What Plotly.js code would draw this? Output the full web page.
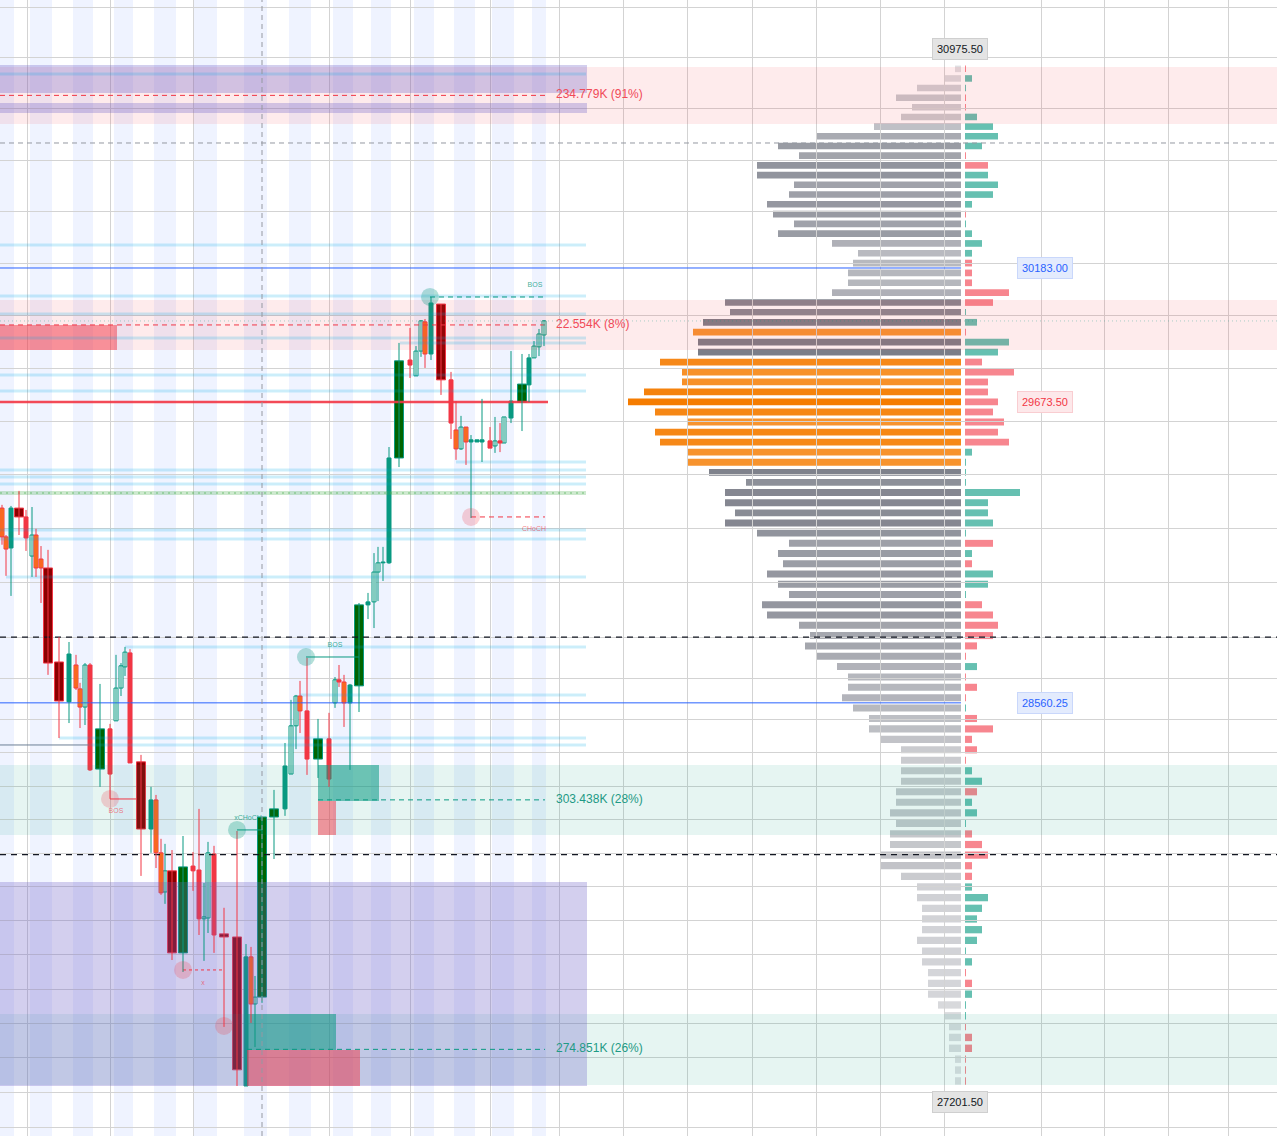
<!DOCTYPE html>
<html>
<head>
<meta charset="utf-8">
<script src="https://cdn.plot.ly/plotly-3.0.1.min.js"></script>
<style>
html,body{margin:0;padding:0;background:#ffffff;}
#chart{width:1277px;height:1136px;}
</style>
</head>
<body>
<div id="chart"></div>
<script>
// ---------------- DATA ----------------
// candles (t = bar time position)
const candleT = [0.4,1.2,2.2,3.8,5.2,6.4,7.2,8.2,9.6,11.8,13.8,15.2,16,17,18,20,22,23.2,24.2,25,26,28.2,30.2,31.2,32.2,33,34.4,36.6,38.6,39.8,40.8,41.6,42.8,44.8,47.4,49.2,50.2,51,52.4,54.8,57,58.2,59.2,60,61.4,63.6,65.8,67,67.8,68.8,70,71.8,73.6,74.8,75.6,76.6,77.8,79.8,82,83.2,84.2,85,86.2,88.2,90.2,91.2,92.2,93.2,94.2,95.4,96.4,98,99,100,100.8,102.2,104.4,105.8,106.8,107.8,108.8];
const candleOpen  = [29276,29169,29128,29276,29243,29098,29176,29087,29054,28709,28564,28698,28611,28545,28698,28321,28466,28495,28614,28691,28742,28347,28106,28210,28021,27882,27957,27667,27974,27960,27787,27790,28017,27734,27723,27203,27653,27488,27512,28149,28178,28303,28477,28585,28531,28357,28430,28560,28644,28636,28560,28622,28918,28929,29039,29073,29073,29463,29832,29772,29866,29977,29855,30045,29757,29568,29497,29579,29523,29523,29523,29527,29508,29527,29519,29613,29673,29738,29840,29882,29927];
const candleClose = [29169,29124,29276,29243,29165,29176,29054,29054,28705,28567,28738,28614,28545,28698,28318,28466,28303,28614,28695,28745,28343,28106,28210,28021,27879,27957,27667,27971,27957,27787,27794,28021,27730,27723,27259,27653,27488,27512,28149,28178,28332,28477,28585,28531,28357,28430,28285,28644,28636,28560,28625,28918,28929,29039,29073,29076,29463,29829,29813,29866,29981,29855,30049,29757,29594,29497,29579,29523,29531,29531,29531,29500,29527,29519,29617,29677,29741,29840,29885,29931,29981];
const candleHigh  = [29288,29176,29284,29340,29269,29280,29199,29135,29121,28800,28782,28735,28633,28705,28705,28629,28484,28735,28705,28764,28756,28372,28257,28228,28071,28053,28031,28081,28024,28178,27914,28060,28046,27826,28099,27698,27688,27586,28149,28246,28415,28571,28589,28640,28724,28502,28524,28654,28698,28662,28629,28925,28962,29109,29132,29132,29504,29897,29954,29885,29984,29988,30072,30045,29787,29677,29621,29579,29549,29531,29685,29579,29617,29594,29617,29866,29855,29855,29904,29950,29984];
const candleLow   = [29140,29025,28951,29176,29117,29021,29021,28925,28662,28433,28487,28607,28469,28480,28314,28257,28214,28495,28585,28658,28343,27939,28021,27967,27872,27840,27642,27600,27886,27730,27639,27737,27667,27408,27203,27203,27422,27338,27492,27999,28153,28303,28393,28451,28300,28289,28257,28542,28618,28473,28318,28527,28866,28833,28932,29006,29069,29429,29764,29772,29844,29802,29832,29700,29534,29456,29493,29437,29239,29523,29448,29500,29482,29485,29519,29594,29564,29673,29840,29847,29885];
// tf teal filled, th teal hollow, rf red filled, ro orange body red border, dg dark green, dr dark red
const candleStyle = ['ro','ro','tf','dr','rf','th','ro','ro','dr','dr','tf','ro','ro','th','rf','dg','rf','th','th','th','rf','dr','tf','ro','ro','th','dr','dg','rf','rf','th','th','rf','dr','dr','tf','ro','th','dg','dg','tf','th','th','ro','rf','dg','rf','th','rf','ro','tf','dg','tf','th','th','tf','tf','dg','rf','th','th','ro','tf','dr','rf','ro','th','ro','tf','tf','tf','rf','th','rf','th','tf','dg','tf','th','th','th'];

// volume profile (100 equal price rows from top to bottom), values in K
const profileTop = 30975.50;
const profileBottom = 27201.50;
const profileVolume = [0.6,1.7,4.4,6.5,4.9,6.0,8.7,14.5,18.3,16.2,
 20.4,20.4,16.7,17.2,19.4,18.8,16.7,18.3,12.9,10.3,
 10.8,11.3,11.3,12.9,23.6,23.1,25.8,26.8,26.3,26.3,
 30.1,27.9,27.9,31.7,33.3,30.6,27.4,30.6,30.1,27.4,
 27.4,25.2,21.5,23.6,23.6,22.6,23.6,20.4,17.2,18.3,
 17.8,19.4,18.3,17.2,19.9,19.4,16.2,15.1,15.6,14.5,
 12.4,11.3,11.3,11.9,10.8,9.2,9.2,8.1,6.0,6.0,
 6.0,6.0,6.5,6.5,7.1,6.5,7.1,7.1,8.1,8.1,
 6.0,4.4,4.4,3.9,3.9,3.9,4.4,3.9,3.9,3.3,
 3.3,3.3,2.3,1.7,1.2,1.2,1.2,0.6,0.6,0.6];
const profileDelta = [-0.1,0.7,0.1,-0.1,-0.1,1.2,2.8,3.3,1.7,-0.1,
 -2.3,2.3,3.3,2.8,0.7,-0.1,0.1,0.7,1.7,0.7,
 -0.7,-0.7,-0.7,-4.4,-2.8,0.1,1.2,-0.1,4.4,3.3,
 -1.7,-4.9,-2.3,-2.3,-3.3,-2.8,-3.9,-3.3,-4.4,0.7,
 0.1,0.1,0.1,5.5,2.3,2.3,2.8,0.1,-2.8,0.7,
 -0.7,2.8,2.3,0.1,-1.7,-2.8,-3.3,-2.8,-1.2,-0.1,
 1.2,-0.1,-1.2,-0.1,0.1,-1.2,-2.8,-0.7,-1.2,-0.1,
 0.7,1.7,-1.2,0.7,1.2,0.1,-0.7,-1.7,-2.3,-0.7,
 -0.7,0.7,2.3,1.7,1.2,1.7,1.2,0.1,0.7,-0.1,
 -0.7,0.7,0.1,0.1,-0.1,-0.7,-0.7,-0.1,-0.1,-0.1];
const profileHighlightRows = [27,30,31,32,33,34,35,36,37,38,39,40];

// key price levels
const levelPrice = [30183.00, 29673.50, 28560.25];
const levelLabel = ['30183.00', '29673.50', '28560.25'];
const levelKind  = ['blue', 'red', 'blue'];
const levelEndT  = [192.2, 109.6, 192.2];

// liquidity zones with volume labels
const zoneTop    = [30964.1, 30060.5, 28335.8, 27453.2];
const zoneBottom = [30740.6, 29870.1, 28084.8, 27206.6];
const zoneLabel  = ['234.779K (91%)', '22.554K (8%)', '303.438K (28%)', '274.851K (26%)'];
const zoneKind   = ['bear', 'bear', 'bull', 'bull'];
const zoneMidStartT = [0, 0, 63.6, 49.4];
const zoneMidEndT = 109;

// purple premium / discount areas
const purpleT0 = [0, 0, 0];
const purpleT1 = [117.4, 117.4, 117.4];
const purpleTop = [30972.0, 30822.6, 27917.6];
const purpleBottom = [30861.8, 30783.5, 27203.1];

// order blocks
const obT0 = [0, 63.6, 63.6, 49.4, 49.4];
const obT1 = [23.4, 75.8, 67.2, 67.2, 72.0];
const obTop = [29965.3, 28335.8, 28206.3, 27453.2, 27327.8];
const obBottom = [29870.1, 28206.3, 28084.8, 27327.8, 27203.1];
const obKind = ['bear', 'bull', 'bear', 'bull', 'bear'];

// liquidity lines
const liqPrice = [30936.5, 30271.4, 30075.8, 30007.2, 29915.8, 29896.8, 29775.5, 29715.0, 29448.1, 29418.2, 29392.0, 29365.9, 29194.7, 29161.3, 29020.9, 28763.7, 28588.9, 28433.1, 28407.8];
const liqStartT = [0, 0, 0, 0, 0, 80, 0, 0, 91.2, 0, 0, 0, 0, 0, 1.2, 25, 60, 11.8, 17.6];
const liqEndT = 117.2;
const equalLevelPrice = [29332.2];
const zonePocPrice = [29980.5];
const dashLinePrice = [30666.3, 28800.0, 28015.0];
const dashLineKind = ['gray', 'black', 'black'];

// market structure points
const structT = [86, 94.2, 61.2, 22, 47.4, 36.6, 44.8];
const structPrice = [30072, 29243, 28727.2, 28213.5, 28102.7, 27607.1, 27411.4];
const structKind = ['bull', 'bear', 'bull', 'bear', 'bull', 'bear', 'bear'];
const structLineT0 = [86, 94.2, 61.2, 22, 47.4, 36.6];
const structLineT1 = [108.8, 109, 71.8, 27.2, 52.4, 44.8];
const structLinePrice = [30072, 29243, 28727.2, 28213.5, 28102.7, 27607.1];
const structLineKind = ['bull', 'bear', 'bull', 'bear', 'bull', 'bear'];
const structLineDash = ['5px,4px', '5px,4px', 'solid', 'solid', 'solid', 'dot'];
const structLabelT = [107, 106.8, 67, 23.2, 49.6, 40.6];
const structLabelPrice = [30118, 29198.5, 28771, 28170.6, 28145.6, 27561.6];
const structLabelText = ['BOS', 'CHoCH', 'BOS', 'BOS', 'xCHoCH', 'x'];
const structLabelKind = ['bull', 'bear', 'bull', 'bear', 'bull', 'bear'];

// session shading and grid
const sessionStartT = [0, 6, 14.6, 22.8, 30.8, 38.8, 48.8, 57.8, 66.6, 74.2, 82.8, 90.8, 98.4, 106.4];
const sessionEndT   = [2.8, 10.4, 18.6, 26.6, 35.2, 43.4, 53.4, 62.2, 70.6, 78.2, 86.8, 95.0, 102.8, 109.2];
const gridT = [5.4, 22, 38.6, 65.8, 82, 98, 111.8, 124.6, 137.4, 150.4, 163.2, 176, 188.8, 208.2, 220.8, 233.6, 245.6];
const gridPrice = [31200, 31000, 30800, 30600, 30400, 30200, 30000, 29800, 29600, 29400, 29200, 29000, 28800, 28650, 28500, 28380, 28260, 28140, 28020, 27900, 27780, 27660, 27540, 27420, 27300, 27180, 27060];
const crosshairT = 52.4;

// ---------------- BUILD ----------------
const T_MAX = 255.4;
const Y_RANGE = [4.431856, 4.494553];
const TEAL = '#089981', RED = '#f23645';
const FONT = 'Liberation Sans, Arial, sans-serif';
const traces = [];

// volume profile
const nRows = profileVolume.length;
const step = (profileTop - profileBottom) / nRows;
const rowPrice = profileVolume.map((v, i) => profileTop - (i + 0.5) * step);
const maxVol = Math.max(...profileVolume);
const volColors = profileVolume.map((v, i) => {
  if (profileHighlightRows.includes(i)) {
    return 'rgba(245,124,0,' + Math.max(0.8, v / maxVol).toFixed(3) + ')';
  }
  return 'rgba(120,123,134,' + Math.min(1, (30 + 3.9 * v) / 135).toFixed(3) + ')';
});
traces.push({type: 'bar', orientation: 'h', xaxis: 'x', yaxis: 'y', y: rowPrice, x: profileVolume,
  width: step * 0.68, marker: {color: volColors, line: {width: 0}}, hoverinfo: 'skip'});
traces.push({type: 'bar', orientation: 'h', xaxis: 'x2', yaxis: 'y', y: rowPrice, x: profileDelta.map(Math.abs),
  width: step * 0.68, marker: {color: profileDelta.map(d => d >= 0 ? 'rgba(8,153,129,0.62)' : 'rgba(242,54,69,0.6)'), line: {width: 0}}, hoverinfo: 'skip'});

// helper to build rectangles as filled polygons
function rects(t0, t1, top, bottom) {
  const xs = [], ys = [];
  for (let i = 0; i < t0.length; i++) {
    xs.push(t0[i], t1[i], t1[i], t0[i], t0[i], null);
    ys.push(bottom[i], bottom[i], top[i], top[i], bottom[i], null);
  }
  return {xs, ys};
}
function addFill(t0, t1, top, bottom, color) {
  if (!t0.length) return;
  const r = rects(t0, t1, top, bottom);
  traces.push({type: 'scatter', mode: 'lines', xaxis: 'x3', yaxis: 'y', x: r.xs, y: r.ys, fill: 'toself',
    fillcolor: color, line: {width: 0, color: 'rgba(0,0,0,0)'}, hoverinfo: 'skip'});
}
function pick(arr, idx) { return idx.map(i => arr[i]); }

// full width zones
const bearZ = zoneKind.map((k, i) => k === 'bear' ? i : -1).filter(i => i >= 0);
const bullZ = zoneKind.map((k, i) => k === 'bull' ? i : -1).filter(i => i >= 0);
addFill(bearZ.map(() => 0), bearZ.map(() => T_MAX), pick(zoneTop, bearZ), pick(zoneBottom, bearZ), 'rgba(242,54,69,0.1)');
addFill(bullZ.map(() => 0), bullZ.map(() => T_MAX), pick(zoneTop, bullZ), pick(zoneBottom, bullZ), 'rgba(8,153,129,0.1)');
// purple areas
addFill(purpleT0, purpleT1, purpleTop, purpleBottom, 'rgba(110,95,200,0.3)');
// order blocks
const obBull = obKind.map((k, i) => k === 'bull' ? i : -1).filter(i => i >= 0);
const obBear = obKind.map((k, i) => k === 'bear' ? i : -1).filter(i => i >= 0);
addFill(pick(obT0, obBull), pick(obT1, obBull), pick(obTop, obBull), pick(obBottom, obBull), 'rgba(8,153,129,0.55)');
addFill(pick(obT0, obBear), pick(obT1, obBear), pick(obTop, obBear), pick(obBottom, obBear), 'rgba(242,54,69,0.5)');

// liquidity lines
(function () {
  const xs = [], ys = [];
  liqPrice.forEach((p, i) => { xs.push(liqStartT[i], liqEndT, null); ys.push(p, p, null); });
  traces.push({type: 'scatter', mode: 'lines', xaxis: 'x3', yaxis: 'y', x: xs, y: ys,
    line: {color: 'rgba(0,172,230,0.2)', width: 3}, hoverinfo: 'skip'});
  const gx = [], gy = [];
  equalLevelPrice.forEach(p => { gx.push(0, liqEndT, null); gy.push(p, p, null); });
  traces.push({type: 'scatter', mode: 'lines', xaxis: 'x3', yaxis: 'y', x: gx, y: gy,
    line: {color: 'rgba(76,175,80,0.28)', width: 4}, hoverinfo: 'skip'});
  traces.push({type: 'scatter', mode: 'lines', xaxis: 'x3', yaxis: 'y', x: gx, y: gy,
    line: {color: 'rgba(76,175,80,0.35)', width: 2, dash: '2px,4px'}, hoverinfo: 'skip'});
})();
// short dark line at the left
traces.push({type: 'scatter', mode: 'lines', xaxis: 'x3', yaxis: 'y', x: [0, 17.6], y: [liqPrice[18], liqPrice[18]],
  line: {color: '#6d7f95', width: 1}, hoverinfo: 'skip'});

// zone POC dotted
traces.push({type: 'scatter', mode: 'lines', xaxis: 'x3', yaxis: 'y', x: [0, T_MAX], y: [zonePocPrice[0], zonePocPrice[0]],
  line: {color: 'rgba(8,153,129,0.35)', width: 1, dash: '1px,3px'}, hoverinfo: 'skip'});

// zone mid dashed lines
zoneTop.forEach((top, i) => {
  const mid = (top + zoneBottom[i]) / 2;
  traces.push({type: 'scatter', mode: 'lines', xaxis: 'x3', yaxis: 'y', x: [zoneMidStartT[i], zoneMidEndT], y: [mid, mid],
    line: {color: zoneKind[i] === 'bear' ? RED : TEAL, width: 1, dash: '5px,4px'}, hoverinfo: 'skip'});
});

// full width dashed lines
dashLinePrice.forEach((p, i) => {
  traces.push({type: 'scatter', mode: 'lines', xaxis: 'x3', yaxis: 'y', x: [0, T_MAX], y: [p, p],
    line: dashLineKind[i] === 'gray' ? {color: '#9598a1', width: 1, dash: '5px,4px'} : {color: '#131722', width: 1.3, dash: '6px,5px'},
    hoverinfo: 'skip'});
});

// key levels
levelPrice.forEach((p, i) => {
  traces.push({type: 'scatter', mode: 'lines', xaxis: 'x3', yaxis: 'y', x: [0, levelEndT[i]], y: [p, p],
    line: levelKind[i] === 'red' ? {color: 'rgba(242,54,69,0.9)', width: 2.5} : {color: '#2962ff', width: 1},
    hoverinfo: 'skip'});
});

// structure lines
structLinePrice.forEach((p, i) => {
  traces.push({type: 'scatter', mode: 'lines', xaxis: 'x3', yaxis: 'y', x: [structLineT0[i], structLineT1[i]], y: [p, p],
    line: {color: structLineKind[i] === 'bull' ? TEAL : RED, width: 1, dash: structLineDash[i]}, hoverinfo: 'skip'});
});

// candle wicks
(function () {
  const up = ['tf', 'th', 'dg'];
  const tx = [], ty = [], rx = [], ry = [];
  candleT.forEach((t, i) => {
    if (candleHigh[i] === candleLow[i]) return;
    if (up.includes(candleStyle[i])) { tx.push(t, t, null); ty.push(candleHigh[i], candleLow[i], null); }
    else { rx.push(t, t, null); ry.push(candleHigh[i], candleLow[i], null); }
  });
  traces.push({type: 'scatter', mode: 'lines', xaxis: 'x3', yaxis: 'y', x: tx, y: ty, line: {color: TEAL, width: 1}, hoverinfo: 'skip'});
  traces.push({type: 'scatter', mode: 'lines', xaxis: 'x3', yaxis: 'y', x: rx, y: ry, line: {color: RED, width: 1}, hoverinfo: 'skip'});
})();

// candle bodies
const candleLook = {
  tf: {fill: TEAL, line: TEAL, w: 0.8},
  th: {fill: '#ffffff', line: TEAL, w: 0.8},
  rf: {fill: RED, line: RED, w: 0.8},
  ro: {fill: '#ff9800', line: RED, w: 0.8},
  dg: {fill: '#006400', line: TEAL, w: 1.8},
  dr: {fill: '#8b0000', line: RED, w: 1.8}
};
Object.keys(candleLook).forEach(s => {
  const idx = candleStyle.map((c, i) => c === s ? i : -1).filter(i => i >= 0);
  const look = candleLook[s];
  traces.push({type: 'bar', xaxis: 'x3', yaxis: 'y',
    x: idx.map(i => candleT[i]),
    base: idx.map(i => Math.min(candleOpen[i], candleClose[i])),
    y: idx.map(i => Math.max(Math.abs(candleClose[i] - candleOpen[i]), 3)),
    width: look.w, marker: {color: look.fill, line: {color: look.line, width: 1}}, hoverinfo: 'skip'});
});

// structure circles
traces.push({type: 'scatter', mode: 'markers', xaxis: 'x3', yaxis: 'y', x: structT, y: structPrice,
  marker: {size: 18, color: structKind.map(k => k === 'bull' ? 'rgba(8,153,129,0.3)' : 'rgba(242,54,69,0.22)'), line: {width: 0}},
  hoverinfo: 'skip'});
// structure labels
traces.push({type: 'scatter', mode: 'text', xaxis: 'x3', yaxis: 'y', x: structLabelT, y: structLabelPrice, text: structLabelText,
  textposition: 'middle center',
  textfont: {family: FONT, size: 7, color: structLabelKind.map(k => k === 'bull' ? 'rgba(8,153,129,0.8)' : 'rgba(242,54,69,0.65)')},
  hoverinfo: 'skip'});
// zone labels
traces.push({type: 'scatter', mode: 'text', xaxis: 'x3', yaxis: 'y', x: zoneLabel.map(() => 111.2),
  y: zoneTop.map((t, i) => (t + zoneBottom[i]) / 2), text: zoneLabel, textposition: 'middle right',
  textfont: {family: FONT, size: 12, color: zoneKind.map(k => k === 'bear' ? '#f04a58' : '#1e9a85')},
  hoverinfo: 'skip'});

// shapes: sessions + crosshair
const shapes = [];
sessionStartT.forEach((s, i) => {
  shapes.push({type: 'rect', xref: 'x3', yref: 'paper', x0: s, x1: sessionEndT[i], y0: 0, y1: 1,
    fillcolor: 'rgba(41,98,255,0.075)', line: {width: 0}, layer: 'below'});
});
shapes.push({type: 'line', xref: 'x3', yref: 'paper', x0: crosshairT, x1: crosshairT, y0: 0, y1: 1,
  line: {color: '#9598a1', width: 1, dash: '5px,4px'}, layer: 'above'});

// price labels
const annotations = [];
function priceBox(xp, price, text, shift, bg, border, color) {
  annotations.push({xref: 'paper', yref: 'y', x: xp, y: Math.log10(price), yshift: shift, text: text, showarrow: false,
    xanchor: 'center', yanchor: 'middle',
    bgcolor: bg, bordercolor: border, borderwidth: 1, borderpad: 4, font: {family: FONT, size: 11, color: color}});
}
priceBox(960 / 1277, profileTop, profileTop.toFixed(2), 15, '#e4e4e4', '#cfcfcf', '#131722');
priceBox(960 / 1277, profileBottom, profileBottom.toFixed(2), -16, '#e4e4e4', '#cfcfcf', '#131722');
levelPrice.forEach((p, i) => {
  if (levelKind[i] === 'red') priceBox(1045 / 1277, p, levelLabel[i], 0, '#fde8ea', '#f9cdd1', RED);
  else priceBox(1045 / 1277, p, levelLabel[i], 0, '#e3ebfd', '#c9d7fb', '#2962ff');
});

const layout = {
  width: 1277, height: 1136,
  margin: {l: 0, r: 0, t: 0, b: 0, pad: 0},
  paper_bgcolor: '#ffffff', plot_bgcolor: 'rgba(0,0,0,0)',
  showlegend: false, hovermode: false, barmode: 'overlay', dragmode: false,
  xaxis:  {domain: [0, 961 / 1277], range: [96.1, 0], visible: false, fixedrange: true},
  xaxis2: {domain: [965 / 1277, 1], range: [0, 31.2], visible: false, fixedrange: true, anchor: 'y'},
  xaxis3: {domain: [0, 1], range: [0, T_MAX], anchor: 'y', showticklabels: false, ticks: '', zeroline: false,
           showline: false, showgrid: true, gridcolor: '#d3d3d3', gridwidth: 1, tickmode: 'array', tickvals: gridT, fixedrange: true},
  yaxis:  {type: 'log', range: Y_RANGE, showticklabels: false, ticks: '', zeroline: false, showline: false,
           showgrid: true, gridcolor: '#d3d3d3', gridwidth: 1, tickmode: 'array', tickvals: gridPrice, fixedrange: true},
  shapes: shapes,
  annotations: annotations
};

Plotly.newPlot('chart', traces, layout, {staticPlot: true, displayModeBar: false});
</script>
</body>
</html>
